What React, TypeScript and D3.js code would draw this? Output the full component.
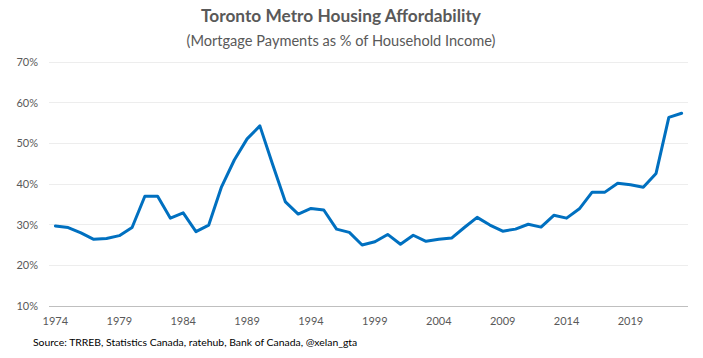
import { useEffect, useRef } from "react";
import * as d3 from "d3";

// Years on the category axis, 1974 to 2023
const years: number[] = d3.range(1974, 2024);

// Mortgage payments as % of household income
const affordability: number[] = [
  29.7, 29.3, 28.0, 26.4, 26.6, 27.3, 29.3, 37.0, 37.0, 31.6,
  32.9, 28.3, 29.9, 39.3, 45.9, 51.1, 54.3, 44.8, 35.6, 32.6,
  34.0, 33.6, 28.9, 28.1, 25.0, 25.8, 27.6, 25.2, 27.4, 25.9,
  26.4, 26.7, 29.3, 31.8, 29.9, 28.4, 28.9, 30.1, 29.4, 32.3,
  31.6, 33.9, 38.0, 38.0, 40.2, 39.8, 39.2, 42.6, 56.4, 57.4,
];

const yTicks: number[] = [10, 20, 30, 40, 50, 60, 70];
const xTickYears: number[] = [1974, 1979, 1984, 1989, 1994, 1999, 2004, 2009, 2014, 2019];

const W = 703;
const H = 358;
const FONT = "Lato, 'Open Sans', sans-serif";

const App = () => {
  const ref = useRef<SVGSVGElement>(null);

  useEffect(() => {
    const svg = d3.select(ref.current);
    svg.selectAll("*").remove();

    const x = d3.scaleBand<number>().domain(years).range([49, 688]);
    const y = d3.scaleLinear().domain([10, 70]).range([306, 62]);
    const cx = (yr: number) => (x(yr) as number) + x.bandwidth() / 2;

    // Title
    svg.append("text")
      .attr("x", 341).attr("y", 22)
      .attr("text-anchor", "middle")
      .attr("font-family", FONT).attr("font-weight", 700)
      .attr("font-size", 17.3).attr("fill", "#595959")
      .text("Toronto Metro Housing Affordability");
    svg.append("text")
      .attr("x", 341).attr("y", 46)
      .attr("text-anchor", "middle")
      .attr("font-family", FONT)
      .attr("font-size", 14.6).attr("fill", "#595959")
      .text("(Mortgage Payments as % of Household Income)");

    // Gridlines
    svg.append("g").selectAll("line")
      .data(yTicks)
      .join("line")
      .attr("x1", 49).attr("x2", 688)
      .attr("y1", (d) => y(d)).attr("y2", (d) => y(d))
      .attr("stroke", (d) => (d === 10 ? "#BFBFBF" : "#EDEDED"))
      .attr("stroke-width", 1)
      .attr("shape-rendering", "crispEdges");

    // Y axis labels
    svg.append("g").selectAll("text")
      .data(yTicks)
      .join("text")
      .attr("x", 38).attr("y", (d) => y(d) + 4)
      .attr("text-anchor", "end")
      .attr("font-family", FONT).attr("font-size", 11).attr("fill", "#595959")
      .text((d) => `${d}%`);

    // X axis labels
    svg.append("g").selectAll("text")
      .data(xTickYears)
      .join("text")
      .attr("x", (d) => cx(d)).attr("y", 325)
      .attr("text-anchor", "middle")
      .attr("font-family", FONT).attr("font-size", 11).attr("fill", "#595959")
      .text((d) => d);

    // Line
    const path = d3.line<number>()
      .x((_, i) => cx(years[i]))
      .y((d) => y(d));
    svg.append("path")
      .datum(affordability)
      .attr("d", path)
      .attr("fill", "none")
      .attr("stroke", "#0070C0")
      .attr("stroke-width", 3)
      .attr("stroke-linejoin", "round")
      .attr("stroke-linecap", "round");

    // Source
    svg.append("text")
      .attr("x", 33).attr("y", 346)
      .attr("font-family", FONT).attr("font-size", 10.4).attr("fill", "#000")
      .text("Source: TRREB, Statistics Canada, ratehub, Bank of Canada, @xelan_gta");
  }, []);

  return (
    <svg ref={ref} width={W} height={H} style={{ position: "absolute", left: 0, top: 0, background: "#fff" }} />
  );
};

export default App;
